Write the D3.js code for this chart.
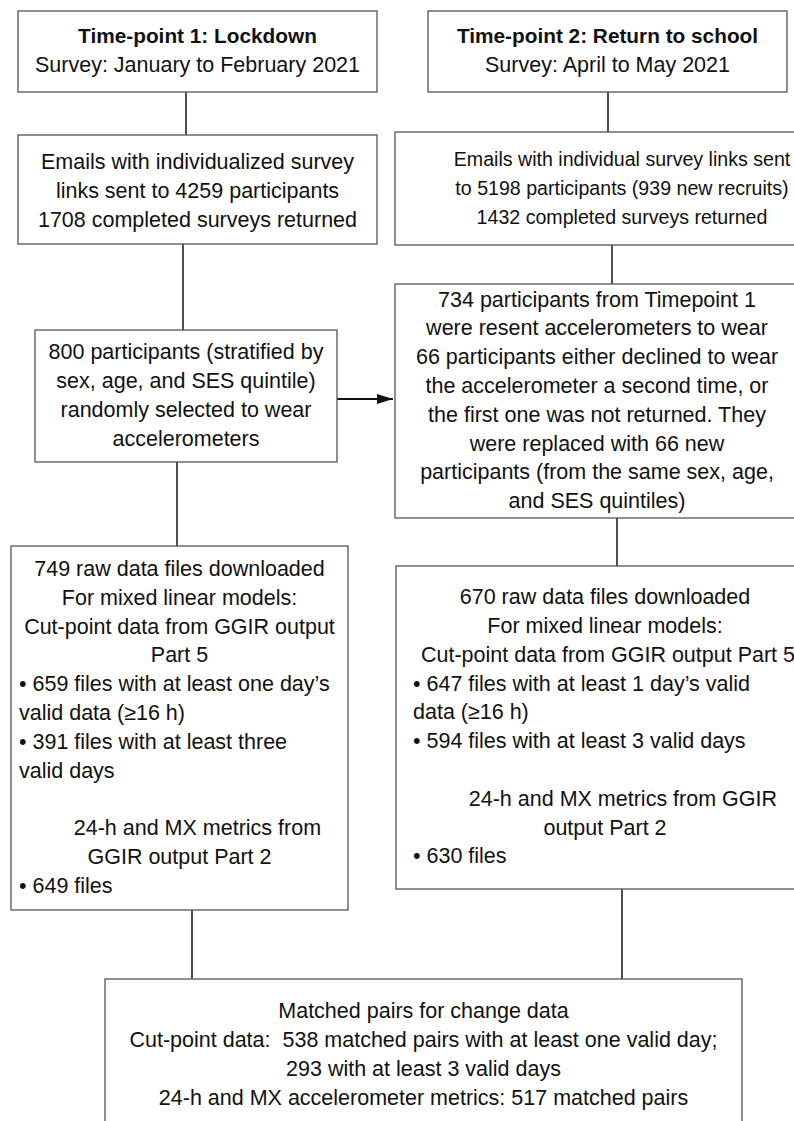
<!DOCTYPE html>
<html>
<head>
<meta charset="utf-8">
<script src="https://cdn.jsdelivr.net/npm/d3@7"></script>
<style>
  html, body { margin: 0; padding: 0; background: #fff; }
  svg text { font-family: "Liberation Sans", Arial, sans-serif; fill: #111; white-space: pre; }
</style>
</head>
<body>
<div id="chart"></div>
<script>
// Box texts, one array per box
const tp1Header = ["Time-point 1: Lockdown", "Survey: January to February 2021"];
const tp2Header = ["Time-point 2: Return to school", "Survey: April to May 2021"];
const tp1Emails = ["Emails with individualized survey", "links sent to 4259 participants", "1708 completed surveys returned"];
const tp2Emails = ["Emails with individual survey links sent", "to 5198 participants (939 new recruits)", "1432 completed surveys returned"];
const tp1Selected = ["800 participants (stratified by", "sex, age, and SES quintile)", "randomly selected to wear", "accelerometers"];
const tp2Resent = [
    "734 participants from Timepoint 1",
    "were resent accelerometers to wear",
    "66 participants either declined to wear",
    "the accelerometer a second time, or",
    "the first one was not returned. They",
    "were replaced with 66 new",
    "participants (from the same sex, age,",
    "and SES quintiles)"
];
const tp1Files = [
    "749 raw data files downloaded",
    "For mixed linear models:",
    "Cut-point data from GGIR output",
    "Part 5",
    "• 659 files with at least one day’s",
    "valid data (≥16 h)",
    "• 391 files with at least three",
    "valid days",
    "",
    "      24-h and MX metrics from",
    "GGIR output Part 2",
    "• 649 files"
];
const tp2Files = [
    "670 raw data files downloaded",
    "For mixed linear models:",
    " Cut-point data from GGIR output Part 5",
    "• 647 files with at least 1 day’s valid",
    "data (≥16 h)",
    "• 594 files with at least 3 valid days",
    "",
    "      24-h and MX metrics from GGIR",
    "output Part 2",
    "• 630 files"
];
const matchedPairs = [
    "Matched pairs for change data",
    "Cut-point data:  538 matched pairs with at least one valid day;",
    "293 with at least 3 valid days",
    "24-h and MX accelerometer metrics: 517 matched pairs"
];

// Layout of the boxes (page pixels)
const boxes = [
    {id: "A", lines: tp1Header, x0: 18, x1: 377, y0: 11, y1: 92, boldFirst: true},
    {id: "B", lines: tp2Header, x0: 428, x1: 787, y0: 11, y1: 92, boldFirst: true},
    {id: "C", lines: tp1Emails, x0: 18, x1: 377, y0: 135, y1: 244, dy: 2},
    {id: "D", lines: tp2Emails, x0: 395, x1: 849, y0: 132, y1: 245, size: 19.6},
    {id: "E", lines: tp1Selected, x0: 35, x1: 337, y0: 330, y1: 462},
    {id: "F", lines: tp2Resent, x0: 395, x1: 799, y0: 284, y1: 518},
    {id: "G", lines: tp1Files, x0: 11, x1: 348, y0: 546, y1: 910, padL: 8,
        align: "ccccllllcccl"},
    {id: "H", lines: tp2Files, x0: 396, x1: 814, y0: 566, y1: 889, padL: 17,
        align: "ccclllcccl"},
    {id: "I", lines: matchedPairs, x0: 105, x1: 742, y0: 979, y1: 1131}
];

// Connectors: vertical links at a given x, plus the one arrow
const links = [
    {from: "A", to: "C", x: 186},
    {from: "B", to: "D", x: 608},
    {from: "C", to: "E", x: 183},
    {from: "D", to: "F", x: 612},
    {from: "E", to: "G", x: 177},
    {from: "F", to: "H", x: 617},
    {from: "G", to: "I", x: 192},
    {from: "H", to: "I", x: 622}
];
const arrows = [{from: "E", to: "F", y: 399}];

const width = 794, height = 1121;
const lineH = 28.8;
const fontSize = 21.5;
const titleSize = 20.8;

const svg = d3.select("#chart").append("svg")
    .attr("width", width)
    .attr("height", height);

svg.append("defs").append("marker")
    .attr("id", "arrowhead")
    .attr("viewBox", "0 0 16 10")
    .attr("refX", 16).attr("refY", 5)
    .attr("markerUnits", "userSpaceOnUse")
    .attr("markerWidth", 16).attr("markerHeight", 10)
    .attr("orient", "auto")
    .append("path")
    .attr("d", "M0,0L16,5L0,10Z")
    .attr("fill", "#111");

const byId = new Map(boxes.map(b => [b.id, b]));

// Links first so the boxes sit on top
svg.append("g").selectAll("line.link")
    .data(links)
    .join("line")
    .attr("class", "link")
    .attr("x1", d => d.x).attr("x2", d => d.x)
    .attr("y1", d => byId.get(d.from).y1)
    .attr("y2", d => byId.get(d.to).y0)
    .attr("stroke", "#222")
    .attr("stroke-width", 1.6);

svg.append("g").selectAll("line.arrow")
    .data(arrows)
    .join("line")
    .attr("class", "arrow")
    .attr("x1", d => byId.get(d.from).x1)
    .attr("x2", d => byId.get(d.to).x0 - 2)
    .attr("y1", d => d.y).attr("y2", d => d.y)
    .attr("stroke", "#111")
    .attr("stroke-width", 2)
    .attr("marker-end", "url(#arrowhead)");

const g = svg.append("g").selectAll("g.box")
    .data(boxes)
    .join("g")
    .attr("class", "box");

g.append("rect")
    .attr("x", d => d.x0)
    .attr("y", d => d.y0)
    .attr("width", d => d.x1 - d.x0)
    .attr("height", d => d.y1 - d.y0)
    .attr("fill", "#fff")
    .attr("stroke", "#555")
    .attr("stroke-width", 1.3);

g.each(function(b) {
    const n = b.lines.length;
    const top = b.y0 + (b.y1 - b.y0 - n * lineH) / 2 + 0.72 * lineH + (b.dy || 0);
    const cx = (b.x0 + b.x1) / 2;
    d3.select(this).selectAll("text")
        .data(b.lines)
        .join("text")
        .attr("x", (d, i) => b.align && b.align[i] === "l" ? b.x0 + b.padL : cx)
        .attr("y", (d, i) => top + i * lineH)
        .attr("text-anchor", (d, i) => b.align && b.align[i] === "l" ? "start" : "middle")
        .attr("font-size", (d, i) => b.boldFirst && i === 0 ? titleSize : (b.size || fontSize))
        .attr("font-weight", (d, i) => b.boldFirst && i === 0 ? "bold" : "normal")
        .text(d => d);
});
</script>
</body>
</html>
